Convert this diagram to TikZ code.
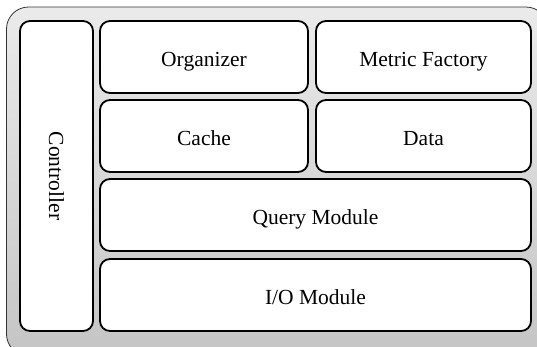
\documentclass[tikz,border=0pt]{standalone}
\usepackage{fontspec}
\setmainfont{Liberation Serif}
\begin{document}
\begin{tikzpicture}[x=1pt,y=-1pt,
  box/.style={draw=black, line width=1.8pt, fill=white, rounded corners=10pt,
    inner sep=0pt, font=\fontsize{21.5}{25}\selectfont,
    text height=24pt, text depth=4.5pt},
  outer/.style={draw=black!80, line width=0.8pt, rounded corners=22pt,
    top color=black!8, bottom color=black!23}]
\useasboundingbox (0,0) rectangle (537,346);
\begin{scope}
\clip (0,0) rectangle (537,346);
\path[outer] (6.5,7) rectangle (548,356);
\end{scope}
\node[box, minimum width=73pt, minimum height=310pt] (ctrl) at (56.5,176) {};
\node[rotate=-90, font=\fontsize{21.5}{25}\selectfont] (ctrltext) at (ctrl.center) {Controller};
\node[box, minimum width=208pt, minimum height=72pt] (org) at (204,57) {Organizer};
\node[box, minimum width=215pt, minimum height=72pt] (mf) at (423.5,57) {Metric Factory};
\node[box, minimum width=208pt, minimum height=72pt] (cache) at (204,136) {Cache};
\node[box, minimum width=215pt, minimum height=72pt] (data) at (423.5,136) {Data};
\node[box, minimum width=431pt, minimum height=72pt] (query) at (315.5,215) {Query Module};
\node[box, minimum width=431pt, minimum height=72pt] (io) at (315.5,295) {I/O Module};
\end{tikzpicture}
\end{document}
